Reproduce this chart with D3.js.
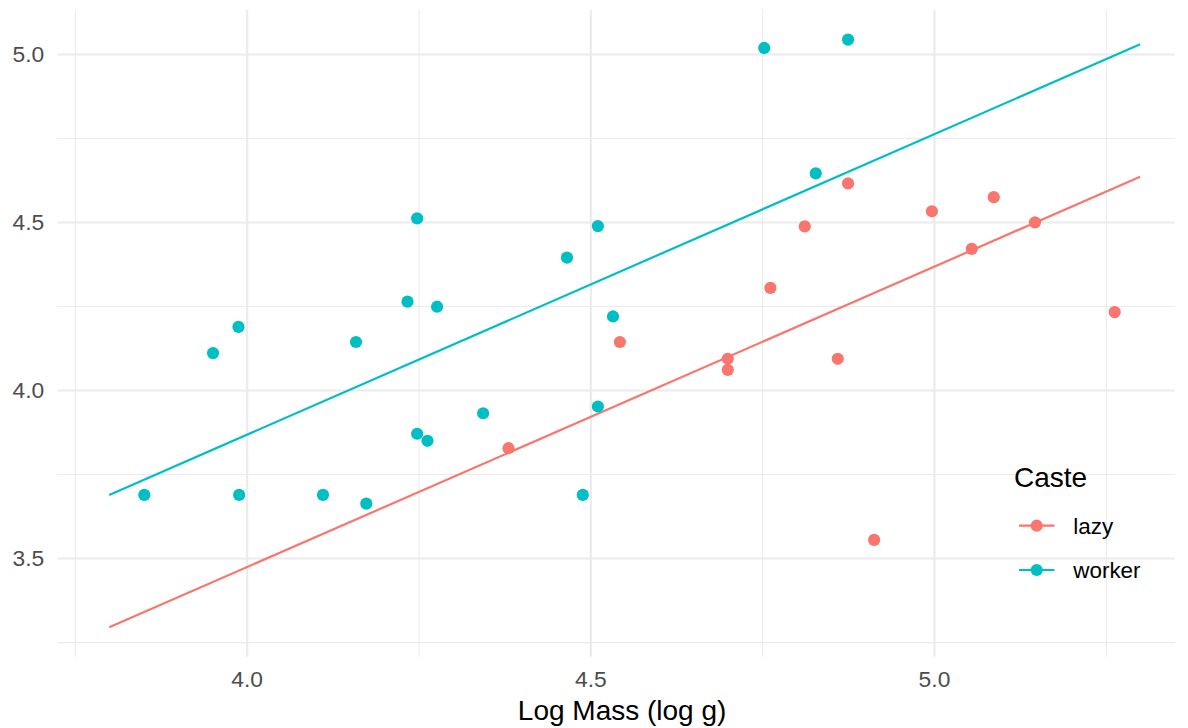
<!DOCTYPE html>
<html>
<head>
<meta charset="utf-8">
<script src="https://cdn.jsdelivr.net/npm/d3@7"></script>
<style>
  body { margin: 0; background: #fff; }
  svg { font-family: "Liberation Sans", Arial, sans-serif; }
</style>
</head>
<body>
<svg id="drawing_region"></svg>
<script>
// log mass and log energy per mole-rat
const castes = ["lazy", "worker"];
const casteColors = ["#F8766D", "#00BFC4"];

const lazyMass   = [4.381, 4.543, 4.700, 4.700, 4.762, 4.812, 4.860, 4.875, 4.913, 4.997, 5.055, 5.087, 5.147, 5.263];
const lazyEnergy = [3.827, 4.143, 4.093, 4.060, 4.304, 4.487, 4.093, 4.615, 3.554, 4.532, 4.420, 4.574, 4.499, 4.232];

const workerMass   = [3.851, 3.951, 3.988, 3.989, 4.111, 4.159, 4.174, 4.234, 4.248, 4.248, 4.263, 4.277, 4.344, 4.466, 4.489, 4.511, 4.511, 4.533, 4.753, 4.828, 4.875];
const workerEnergy = [3.688, 4.110, 4.188, 3.688, 3.688, 4.143, 3.662, 4.263, 4.511, 3.870, 3.849, 4.248, 3.931, 4.394, 3.688, 4.488, 3.951, 4.219, 5.018, 4.645, 5.043];

// fitted lines (common slope), two ends each
const fitMass   = [3.80, 5.30];
const fitLazy   = [3.294, 4.635];
const fitWorker = [3.688, 5.029];

const xTicks = [4.0, 4.5, 5.0];
const xMinor = [3.75, 4.25, 4.75, 5.25];
const yTicks = [3.5, 4.0, 4.5, 5.0];
const yMinor = [3.25, 3.75, 4.25, 4.75];

class ScatterPlot {

    constructor( config ) {
        this.config = config;
        this.init();
    }

    init() {
        let self = this;

        self.svg = d3.select( self.config.parent )
            .attr('width', self.config.width)
            .attr('height', self.config.height);

        self.inner_width = self.config.width - self.config.margin.left - self.config.margin.right;
        self.inner_height = self.config.height - self.config.margin.top - self.config.margin.bottom;

        self.chart = self.svg.append('g')
            .attr('transform', `translate(${self.config.margin.left}, ${self.config.margin.top})`);

        self.xscale = d3.scaleLinear()
            .domain( [3.725, 5.35] )
            .range( [0, self.inner_width] );

        self.yscale = d3.scaleLinear()
            .domain( [3.2065, 5.131] )
            .range( [self.inner_height, 0] );
    }

    render() {
        let self = this;
        const W = self.inner_width, H = self.inner_height;

        // minor grid
        self.chart.append('g')
            .attr('class', 'grid-minor')
            .call( d3.axisLeft(self.yscale).tickValues(yMinor).tickSize(-W).tickFormat('') );
        self.chart.append('g')
            .attr('class', 'grid-minor')
            .attr('transform', `translate(0, ${H})`)
            .call( d3.axisBottom(self.xscale).tickValues(xMinor).tickSize(H).tickSizeInner(-H).tickFormat('') );
        self.chart.selectAll('.grid-minor line')
            .attr('stroke', '#EBEBEB')
            .attr('stroke-width', 1.1);

        // major grid + labels
        const yaxis = self.chart.append('g')
            .attr('class', 'grid-major')
            .call( d3.axisLeft(self.yscale).tickValues(yTicks).tickSize(-W).tickPadding(13.4).tickFormat(d3.format('.1f')) );
        const xaxis = self.chart.append('g')
            .attr('class', 'grid-major')
            .attr('transform', `translate(0, ${H})`)
            .call( d3.axisBottom(self.xscale).tickValues(xTicks).tickSize(-H).tickPadding(14).tickFormat(d3.format('.1f')) );
        self.chart.selectAll('.grid-minor .domain, .grid-major .domain').remove();
        self.chart.selectAll('.grid-major line')
            .attr('stroke', '#EBEBEB')
            .attr('stroke-width', 2.1);
        self.chart.selectAll('.grid-major text')
            .attr('fill', '#4D4D4D')
            .style('font-size', '22.8px');

        // axis title
        self.chart.append('text')
            .attr('text-anchor', 'middle')
            .attr('x', W/2 + 6)
            .attr('y', H + 63.5)
            .style('font-size', '28px')
            .attr('fill', '#000')
            .text('Log Mass (log g)');

        // fitted lines
        const line = d3.line()
            .x( d => self.xscale(d[0]) )
            .y( d => self.yscale(d[1]) );
        const fits = [fitLazy, fitWorker];
        fits.forEach( (f, i) => {
            self.chart.append('path')
                .datum( fitMass.map( (m, j) => [m, f[j]] ) )
                .attr('d', line)
                .attr('fill', 'none')
                .attr('stroke', casteColors[i])
                .attr('stroke-width', 2.2);
        });

        // points
        const groups = [
            lazyMass.map( (m, j) => [m, lazyEnergy[j]] ),
            workerMass.map( (m, j) => [m, workerEnergy[j]] )
        ];
        groups.forEach( (g, i) => {
            self.chart.append('g')
                .selectAll('circle')
                .data(g)
                .enter()
                .append('circle')
                .attr('cx', d => self.xscale(d[0]) )
                .attr('cy', d => self.yscale(d[1]) )
                .attr('r', 6.1)
                .attr('fill', casteColors[i]);
        });

        // legend (inside panel, no box)
        const legend = self.svg.append('g')
            .attr('transform', 'translate(1014, 0)');
        legend.append('text')
            .attr('x', 0)
            .attr('y', 486.5)
            .style('font-size', '28px')
            .attr('fill', '#000')
            .text('Caste');
        const keyY = [525.7, 570];
        castes.forEach( (c, i) => {
            legend.append('line')
                .attr('x1', 5).attr('x2', 40.5)
                .attr('y1', keyY[i]).attr('y2', keyY[i])
                .attr('stroke', casteColors[i])
                .attr('stroke-width', 2.2);
            legend.append('circle')
                .attr('cx', 22.7).attr('cy', keyY[i])
                .attr('r', 6.1)
                .attr('fill', casteColors[i]);
            legend.append('text')
                .attr('x', 59.3)
                .attr('y', keyY[i])
                .attr('dy', '0.36em')
                .style('font-size', '22.4px')
                .attr('fill', '#000')
                .text(c);
        });
    }
}

const config = {
    parent: '#drawing_region',
    width: 1188,
    height: 728,
    margin: {top:10, right:13.5, bottom:71.3, left:57.7}
};

const scatter_plot = new ScatterPlot( config );
scatter_plot.render();
</script>
</body>
</html>
